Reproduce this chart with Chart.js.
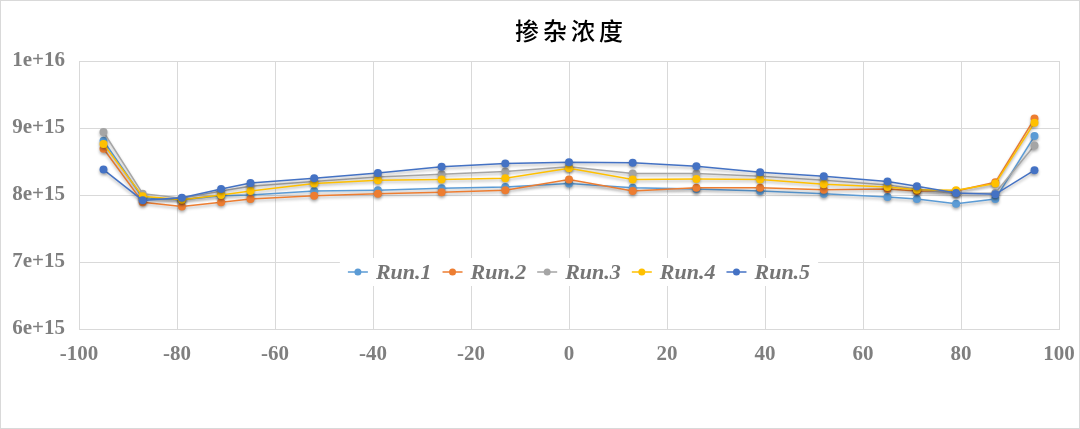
<!DOCTYPE html>
<html>
<head>
<meta charset="utf-8">
<title>掺杂浓度</title>
<script src="https://cdn.jsdelivr.net/npm/chart.js@4/dist/chart.umd.min.js"></script>
<style>
  html, body { margin: 0; padding: 0; background: #fff; }
  #wrap { width: 1080px; height: 429px; position: relative; box-sizing: border-box; border: 1px solid #d9d9d9; }
  #chartCanvas { display: block; }
</style>
</head>
<body>
<div id="wrap"><canvas id="chartCanvas" width="1078" height="427"></canvas></div>
<script>
// positions along the x axis
const positions = [-95, -87, -79, -71, -65, -52, -39, -26, -13, 0, 13, 26, 39, 52, 65, 71, 79, 87, 95];

// values in units of 1e15
const run1 = [8.81, 7.96, 7.93, 7.99, 8.00, 8.06, 8.07, 8.10, 8.12, 8.17, 8.11, 8.09, 8.06, 8.02, 7.97, 7.94, 7.87, 7.94, 8.88];
const run2 = [8.69, 7.89, 7.83, 7.89, 7.94, 7.99, 8.02, 8.04, 8.07, 8.23, 8.06, 8.11, 8.11, 8.08, 8.09, 8.06, 8.06, 8.19, 9.14];
const run3 = [8.94, 8.02, 7.95, 8.06, 8.13, 8.20, 8.27, 8.31, 8.35, 8.42, 8.32, 8.32, 8.28, 8.22, 8.15, 8.09, 8.02, 8.03, 8.74];
const run4 = [8.76, 7.98, 7.93, 8.00, 8.06, 8.17, 8.22, 8.23, 8.25, 8.40, 8.23, 8.24, 8.23, 8.16, 8.12, 8.08, 8.07, 8.17, 9.08];
const run5 = [8.38, 7.92, 7.96, 8.09, 8.18, 8.25, 8.33, 8.42, 8.47, 8.49, 8.48, 8.43, 8.34, 8.28, 8.20, 8.13, 8.03, 8.01, 8.37];

const seriesNames = ["Run.1", "Run.2", "Run.3", "Run.4", "Run.5"];
const seriesColors = ["#5B9BD5", "#ED7D31", "#A5A5A5", "#FFC000", "#4472C4"];

const yTicks = [6e15, 7e15, 8e15, 9e15, 1e16];
const chartTitle = "掺杂浓度";

document.addEventListener("DOMContentLoaded", () => {
  const allRuns = [run1, run2, run3, run4, run5];
  const tickColor = "#7f7f7f";
  const gridColor = "#d9d9d9";
  const tickFont = { family: "'Liberation Serif', serif", size: 21, weight: "bold" };

  /*****************************************************
   * 1) DATASETS => later runs drawn on top (like Excel)
   *****************************************************/
  const datasets = allRuns.map((vals, i) => ({
    label: seriesNames[i],
    data: vals.map((v, k) => ({ x: positions[k], y: v * 1e15 })),
    borderColor: seriesColors[i],
    backgroundColor: seriesColors[i],
    borderWidth: 1.5,
    pointRadius: 4,
    pointBorderWidth: 0,
    tension: 0,
    order: allRuns.length - i
  }));

  /*****************************************************
   * 2) PLUGINS => shadow, title over plot, inside legend
   *****************************************************/
  const shadowPlugin = {
    id: "shadow",
    beforeDatasetsDraw(chart) {
      const ctx = chart.ctx;
      ctx.save();
      ctx.shadowColor = "rgba(0,0,0,0.3)";
      ctx.shadowBlur = 3;
      ctx.shadowOffsetX = 0;
      ctx.shadowOffsetY = 2;
    },
    afterDatasetsDraw(chart) {
      chart.ctx.restore();
    }
  };

  // title centred over the plot area, not the whole canvas
  const plotTitle = {
    id: "plotTitle",
    afterDraw(chart) {
      const ctx = chart.ctx;
      const area = chart.chartArea;
      ctx.save();
      ctx.font = "500 24px 'Noto Sans CJK SC', sans-serif";
      ctx.letterSpacing = "4px";
      ctx.fillStyle = "#000000";
      ctx.textAlign = "center";
      ctx.textBaseline = "middle";
      ctx.fillText(chartTitle, (area.left + area.right) / 2 + 2, 30);
      ctx.restore();
    }
  };

  const insideLegend = {
    id: "insideLegend",
    afterDraw(chart) {
      const ctx = chart.ctx;
      const area = chart.chartArea;
      ctx.save();
      ctx.font = "italic bold 22px 'Liberation Serif', 'Times New Roman', serif";
      const lineW = 20, gapText = 8, gapItem = 11;
      const widths = chart.data.datasets.map(ds => ctx.measureText(ds.label).width);
      let total = 0;
      widths.forEach(w => { total += lineW + gapText + w + gapItem; });
      total -= gapItem;
      const cx = (area.left + area.right) / 2 + 10;
      const cy = 271;
      let x = cx - total / 2;

      // white box hides the grid behind the legend
      ctx.fillStyle = "#ffffff";
      ctx.fillRect(x - 8, cy - 14, total + 16, 28);

      ctx.textBaseline = "middle";
      chart.data.datasets.forEach((ds, i) => {
        ctx.strokeStyle = ds.borderColor;
        ctx.lineWidth = 1.5;
        ctx.beginPath();
        ctx.moveTo(x, cy);
        ctx.lineTo(x + lineW, cy);
        ctx.stroke();
        ctx.fillStyle = ds.borderColor;
        ctx.beginPath();
        ctx.arc(x + lineW / 2, cy, 3.5, 0, Math.PI * 2);
        ctx.fill();
        ctx.fillStyle = "#767676";
        ctx.fillText(ds.label, x + lineW + gapText, cy + 1);
        x += lineW + gapText + widths[i] + gapItem;
      });
      ctx.restore();
    }
  };

  /*****************************************************
   * 3) CHART
   *****************************************************/
  const ctx = document.getElementById("chartCanvas").getContext("2d");
  new Chart(ctx, {
    type: "line",
    data: { datasets },
    options: {
      responsive: false,
      animation: false,
      layout: { padding: { left: 0, right: 20, top: 60, bottom: 0 } },
      plugins: {
        legend: { display: false },
        tooltip: { enabled: false },
        title: { display: false }
      },
      scales: {
        x: {
          type: "linear",
          min: -100,
          max: 100,
          ticks: {
            stepSize: 20,
            color: tickColor,
            padding: 13,
            font: tickFont
          },
          grid: { color: gridColor, drawTicks: false },
          border: { color: gridColor },
          afterFit: (scale) => {
            scale.height = 99;
            scale.paddingLeft = 0;
            scale.paddingRight = 0;
          }
        },
        y: {
          min: 6e15,
          max: 1e16,
          afterBuildTicks: (scale) => {
            scale.ticks = yTicks.map(v => ({ value: v }));
          },
          ticks: {
            color: tickColor,
            padding: 14,
            font: tickFont,
            callback: (v) => {
              const exp = Math.floor(Math.log10(v) + 1e-9);
              const mant = Math.round(v / Math.pow(10, exp));
              return `${mant}e+${exp}`;
            }
          },
          grid: { color: gridColor, drawTicks: false },
          border: { color: gridColor },
          afterFit: (scale) => {
            scale.width = 78;
            scale.paddingTop = 0;
            scale.paddingBottom = 0;
          }
        }
      }
    },
    plugins: [shadowPlugin, plotTitle, insideLegend]
  });
});
</script>
</body>
</html>
